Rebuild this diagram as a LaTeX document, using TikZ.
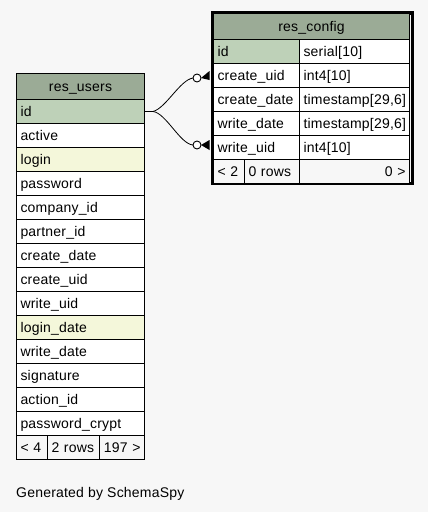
\documentclass[tikz,border=0pt]{standalone}
\usepackage{fontspec}
\setmainfont{Liberation Sans}[LetterSpace=1.5]
\definecolor{pagebg}{HTML}{F7F7F7}
\definecolor{headbg}{HTML}{9BAB96}
\definecolor{keybg}{HTML}{BED1B8}
\definecolor{idxbg}{HTML}{F4F7DA}
\definecolor{footbg}{HTML}{F7F7F7}
\tikzset{
  cell/.style={draw=black, line width=1pt, fill=white, anchor=north west,
    minimum height=24pt, inner xsep=4pt, inner ysep=0pt,
    text height=11.5pt, text depth=1.5pt, align=left,
    font=\fontsize{14}{16}\selectfont},
  wide/.style={text width=#1-8pt, minimum width=#1},
  headcell/.style={cell, fill=headbg, align=center, minimum height=26pt},
  keycell/.style={cell, fill=keybg},
  idxcell/.style={cell, fill=idxbg},
  footcell/.style={cell, fill=footbg},
  rightcell/.style={align=right},
  frame/.style={draw=black, line width=3.5pt, anchor=north west, inner sep=0pt},
  relation/.style={draw=black, line width=0.8pt},
  optional/.style={draw=black, line width=0.9pt, fill=white},
  crowfoot/.style={fill=black}
}
\begin{document}
\begin{tikzpicture}[x=1pt,y=-1pt]
\fill[pagebg] (0,0) rectangle (428,512);
\useasboundingbox (0,0) rectangle (428,512);

% ---------- res_users ----------
\node[headcell, wide=128pt] (uhead) at (16,73) {res\_users};
\node[keycell, wide=128pt] (uid) at (16,99) {id};
\node[cell, wide=128pt] (uactive) at (16,123) {active};
\node[idxcell, wide=128pt] (ulogin) at (16,147) {login};
\node[cell, wide=128pt] (upassword) at (16,171) {password};
\node[cell, wide=128pt] (ucompany) at (16,195) {company\_id};
\node[cell, wide=128pt] (upartner) at (16,219) {partner\_id};
\node[cell, wide=128pt] (ucdate) at (16,243) {create\_date};
\node[cell, wide=128pt] (ucuid) at (16,267) {create\_uid};
\node[cell, wide=128pt] (uwuid) at (16,291) {write\_uid};
\node[idxcell, wide=128pt] (uldate) at (16,315) {login\_date};
\node[cell, wide=128pt] (uwdate) at (16,339) {write\_date};
\node[cell, wide=128pt] (usig) at (16,363) {signature};
\node[cell, wide=128pt] (uaction) at (16,387) {action\_id};
\node[cell, wide=128pt] (ucrypt) at (16,411) {password\_crypt};
\node[footcell, wide=31pt] (uparents) at (16,435) {< 4};
\node[footcell, wide=52pt] (urows) at (47,435) {2 rows};
\node[footcell, rightcell, wide=45pt] (uchildren) at (99,435) {197 >};

% ---------- res_config (selected table, heavy frame) ----------
\node[frame, minimum width=199.5pt, minimum height=170.5pt] (cframe) at (211.25,11.25) {};
\node[headcell, wide=196pt] (chead) at (213,13) {res\_config};
\node[keycell, wide=86pt] (cid) at (213,39) {id};
\node[cell, wide=110pt] (cidt) at (299,39) {serial[10]};
\node[cell, wide=86pt] (ccuid) at (213,63) {create\_uid};
\node[cell, wide=110pt] (ccuidt) at (299,63) {int4[10]};
\node[cell, wide=86pt] (ccdate) at (213,87) {create\_date};
\node[cell, wide=110pt] (ccdatet) at (299,87) {timestamp[29,6]};
\node[cell, wide=86pt] (cwdate) at (213,111) {write\_date};
\node[cell, wide=110pt] (cwdatet) at (299,111) {timestamp[29,6]};
\node[cell, wide=86pt] (cwuid) at (213,135) {write\_uid};
\node[cell, wide=110pt] (cwuidt) at (299,135) {int4[10]};
\node[footcell, wide=31pt] (cparents) at (213,159) {< 2};
\node[footcell, wide=55pt] (crows) at (244,159) {0 rows};
\node[footcell, rightcell, wide=110pt] (cchildren) at (299,159) {0 >};

% ---------- relationships: res_users.id -> res_config ----------
\coordinate (split) at ([xshift=8pt]uid.east);
\coordinate (o1) at (197,78);
\coordinate (o2) at (197,145);
\draw[relation] (uid.east) -- (split)
  .. controls (166,108) and (180,80) .. ([xshift=-4pt]o1);
\draw[relation] (uid.east) -- (split)
  .. controls (166,113) and (180,144) .. ([xshift=-4pt]o2);
\draw[optional] (o1) circle[radius=4pt];
\draw[optional] (o2) circle[radius=4pt];
\fill[crowfoot] (201,78) -- (209.5,71) -- (209.5,80) -- cycle;
\fill[crowfoot] (201,145) -- (209.5,140) -- (209.5,150) -- cycle;

\node[anchor=base west, inner sep=0pt, font=\fontsize{14}{16}\selectfont] (credit) at (16,497) {Generated by SchemaSpy};
\end{tikzpicture}
\end{document}
